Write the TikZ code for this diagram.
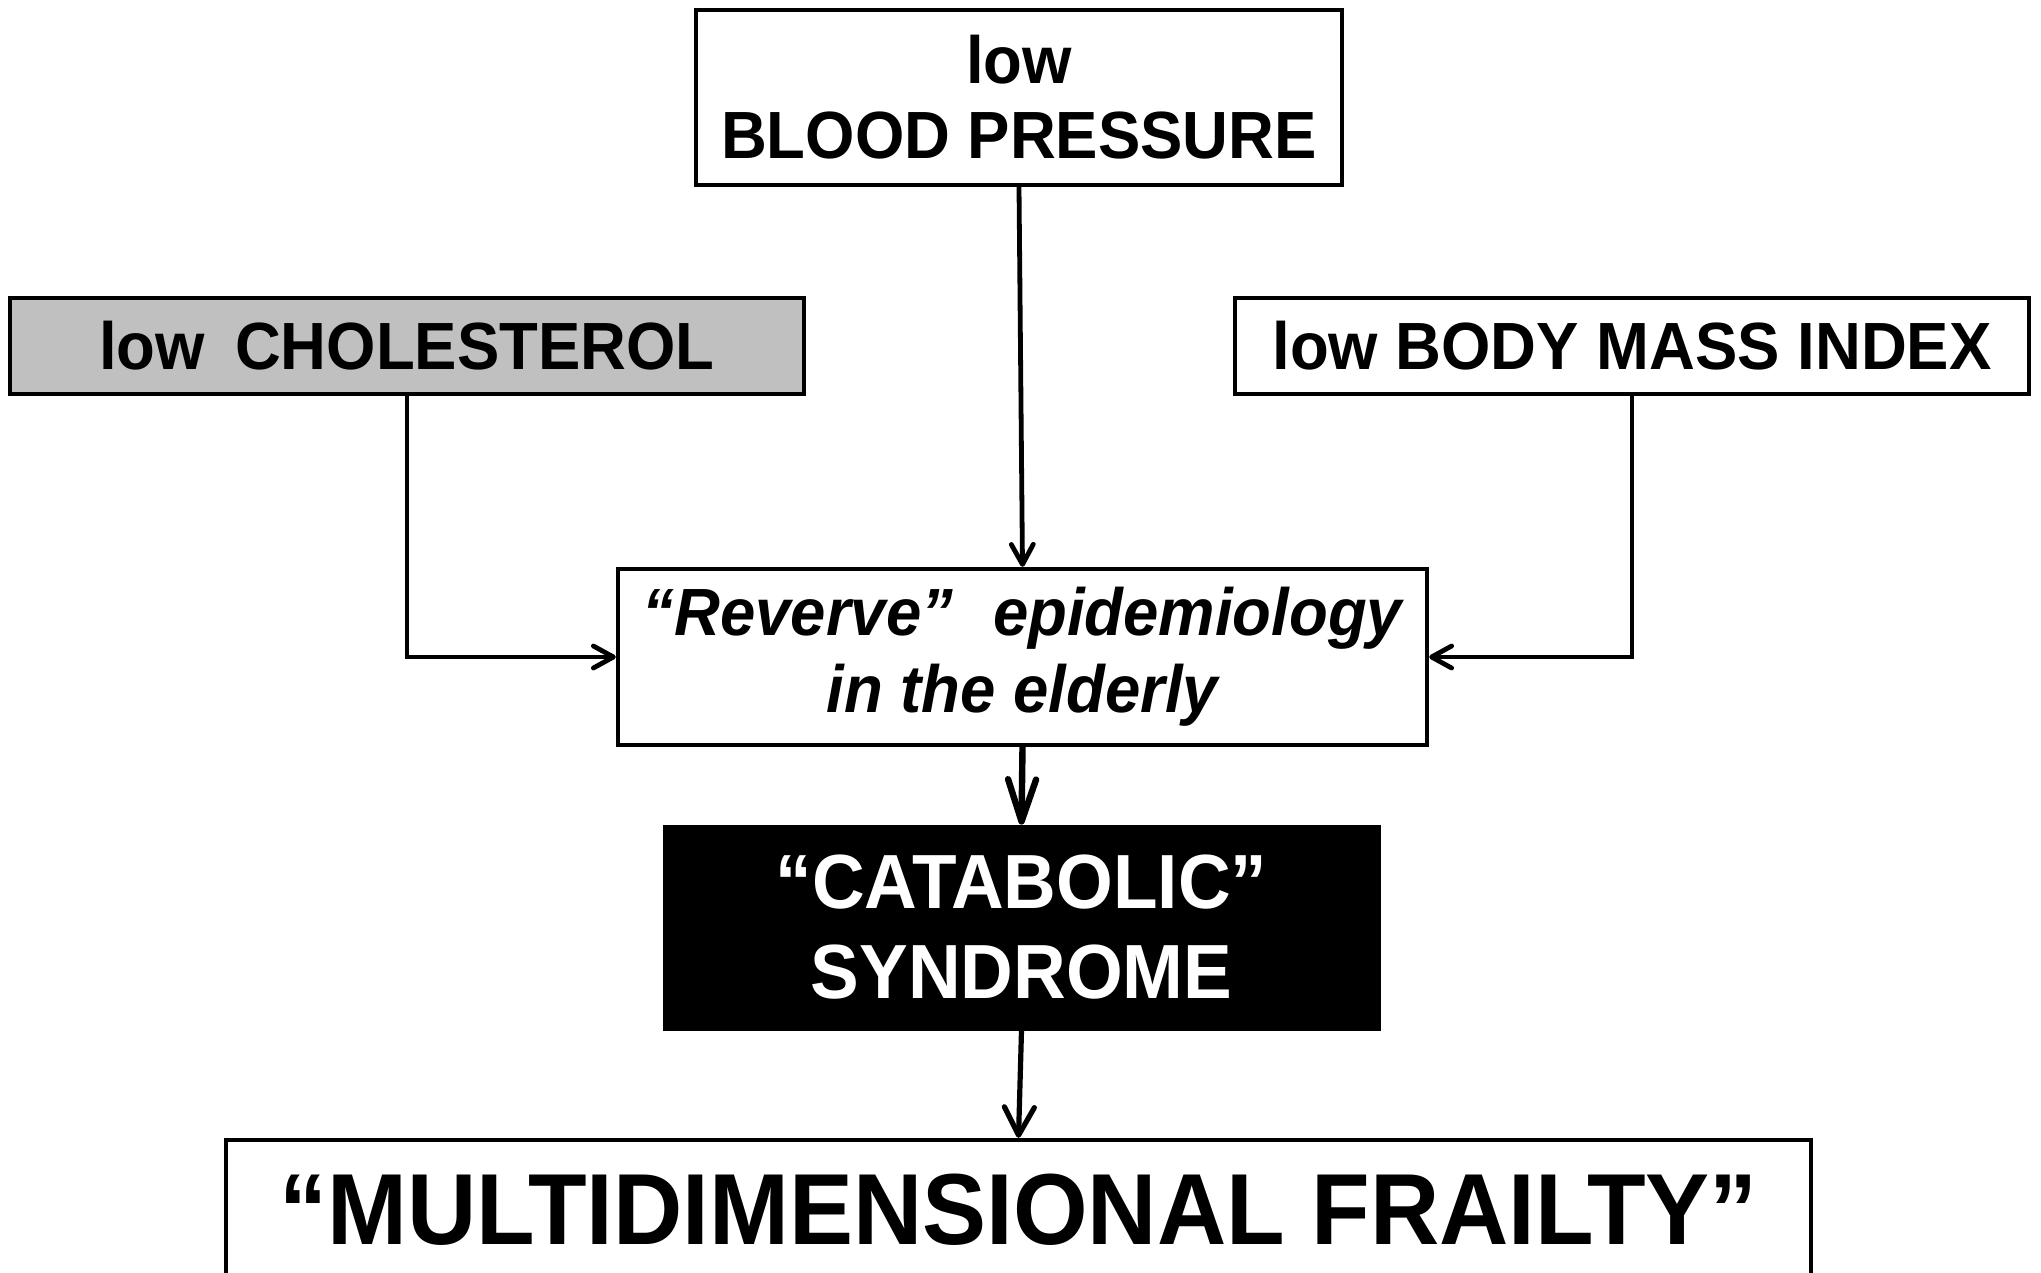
\documentclass[tikz,border=0pt]{standalone}
\usepackage{fontspec}
\setmainfont{Liberation Sans}[FakeStretch=0.95]
\usepackage{xcolor}
\usepackage{tikz}
\usetikzlibrary{
  positioning,
  arrows.meta
}

\definecolor{cholgrey}{HTML}{C0C0C0}

\begin{document}
\begin{tikzpicture}[
  x=0.5pt, y=-0.5pt,
  factor/.style={
    rectangle,
    draw=black,
    line width=2.2pt,
    fill=white,
    inner sep=0pt,
    align=center,
    font=\fontsize{33.4}{37.5}\selectfont\bfseries
  },
  syndrome/.style={
    rectangle,
    draw=black,
    fill=black,
    text=white,
    inner sep=0pt,
    align=center,
    font=\fontsize{38.4}{45}\selectfont\bfseries
  },
  thinarrow/.style={
    -{Straight Barb[length=10pt,width=11pt,round]},
    line width=2.4pt
  },
  thickarrow/.style={
    -{Straight Barb[length=21pt,width=14pt,round]},
    line width=3.2pt
  },
  midarrow/.style={
    -{Straight Barb[length=14pt,width=15pt,round]},
    line width=2.6pt
  }
]
\useasboundingbox (0,0) rectangle (2041,1273);

% Risk factors
\node[factor, minimum width=323pt, minimum height=87.5pt] (bp) at (1019,97.5) {low\\BLOOD PRESSURE};
\node[factor, fill=cholgrey, minimum width=397pt, minimum height=48pt] (chol) at (407,346) {low\hspace{0.45em}CHOLESTEROL};
\node[factor, minimum width=397pt, minimum height=48pt] (bmi) at (1632,346) {low BODY MASS INDEX};

% Reverse epidemiology
\node[factor, minimum width=404.5pt, minimum height=88pt, font=\fontsize{33.4}{38.5}\selectfont\bfseries\itshape] (reverse) at (1022.5,657) {\raisebox{-2pt}{``Reverve''\hspace{0.6em}epidemiology}\\\raisebox{-2pt}{in the elderly}};

% Catabolic syndrome & frailty
\node[syndrome, minimum width=358.5pt, minimum height=102.5pt] (catabolic) at (1021.5,927.5) {``CATABOLIC''\\SYNDROME};
\node[factor, minimum width=792.5pt, minimum height=70pt, font=\fontsize{50.5}{55}\selectfont\bfseries] (frailty) at (1018.5,1210) {``MULTIDIMENSIONAL FRAILTY''};

% Connectors
\draw[thinarrow] (bp.south) -- (reverse.north);
\draw[thinarrow] (chol.south) |- (reverse.west);
\draw[thinarrow] (bmi.south) |- (reverse.east);
\draw[thickarrow] (reverse.south) -- (catabolic.north);
\draw[midarrow] (catabolic.south) -- (frailty.north);

\end{tikzpicture}
\end{document}
